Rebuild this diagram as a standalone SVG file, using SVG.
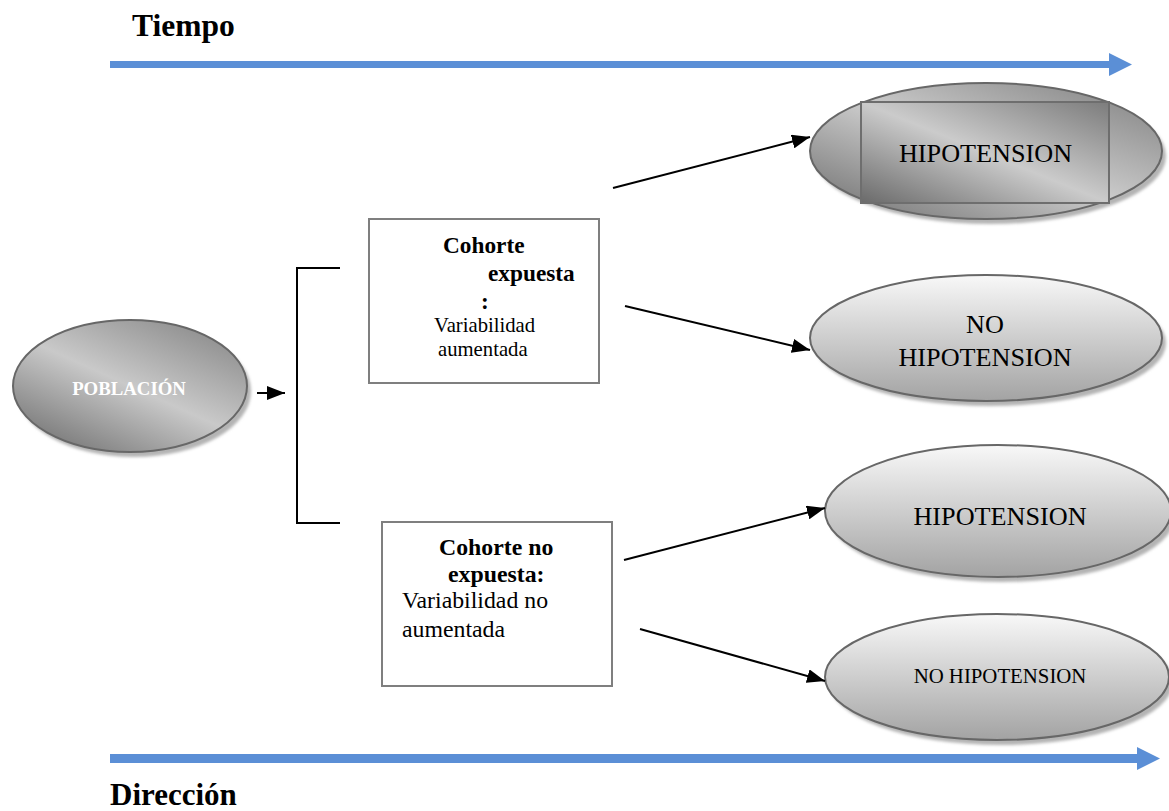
<svg xmlns="http://www.w3.org/2000/svg" width="1169" height="811" viewBox="0 0 1169 811">
<style>
.serif{font-family:"Liberation Serif","Times New Roman",serif;fill:#000}
.b{font-weight:bold}
.el{stroke:#676767;stroke-width:2}
.box{fill:#fff;stroke:#7f7f7f;stroke-width:2}
.con{stroke:#000;stroke-width:2;fill:none}
.shadow{fill:#b4b4b4;filter:url(#blur)}
</style>
<defs>
<filter id="blur" x="-10%" y="-10%" width="120%" height="120%"><feGaussianBlur stdDeviation="1.5"/></filter>
<linearGradient id="gDiag" x1="1" y1="0" x2="0" y2="1">
<stop offset="0" stop-color="#7c7c7c"/>
<stop offset="0.5" stop-color="#cbcbcb"/>
<stop offset="1" stop-color="#6a6a6a"/>
</linearGradient>
<linearGradient id="gPob" x1="0.9" y1="0" x2="0.1" y2="1">
<stop offset="0" stop-color="#858585"/>
<stop offset="0.5" stop-color="#c9c9c9"/>
<stop offset="1" stop-color="#6e6e6e"/>
</linearGradient>
<linearGradient id="gVert" x1="0" y1="0" x2="0" y2="1">
<stop offset="0" stop-color="#f8f8f8"/>
<stop offset="1" stop-color="#a3a3a3"/>
</linearGradient>
<marker id="ahs" viewBox="0 0 18 14" refX="18" refY="7" markerWidth="18" markerHeight="14" orient="auto" markerUnits="userSpaceOnUse">
<path d="M0,0 L18,7 L0,14 z" fill="#000"/>
</marker>
</defs>
<rect width="1169" height="811" fill="#fff"/>

<g id="tiempo">
<text class="serif b" x="132" y="36" font-size="31.5">Tiempo</text>
<path d="M110,61 L1109,61 L1109,53 L1132,64.5 L1109,76 L1109,68 L110,68 z" fill="#5b8fd6"/>
</g>

<g id="direccion">
<path d="M110,754 L1137,754 L1137,747 L1160,758.5 L1137,770 L1137,763 L110,763 z" fill="#5b8fd6"/>
<text class="serif b" x="110" y="805" font-size="31">Dirección</text>
</g>

<g id="poblacion">
<ellipse class="shadow" cx="134" cy="391" rx="117" ry="66"/>
<ellipse class="el" cx="130" cy="386" rx="117" ry="66" fill="url(#gPob)"/>
<text x="129" y="395" text-anchor="middle" font-family="Liberation Serif, serif" font-weight="bold" font-size="18.8" fill="#fff">POBLACIÓN</text>
</g>

<g id="cohorte-expuesta">
<rect class="box" x="369" y="219" width="230" height="164"/>
<text class="serif b" x="443" y="253" font-size="23.3">Cohorte</text>
<text class="serif b" x="488" y="281" font-size="23.3">expuesta</text>
<text class="serif b" x="481" y="309" font-size="23.3">:</text>
<text class="serif" x="434" y="332" font-size="20.7">Variabilidad</text>
<text class="serif" x="438" y="356" font-size="20.7">aumentada</text>
</g>

<g id="cohorte-no-expuesta">
<rect class="box" x="382" y="522" width="230" height="164"/>
<text class="serif b" x="439" y="555" font-size="23.8">Cohorte no</text>
<text class="serif b" x="448" y="582" font-size="23.8">expuesta:</text>
<text class="serif" x="402" y="608" font-size="23.8">Variabilidad no</text>
<text class="serif" x="402" y="637" font-size="23.8">aumentada</text>
</g>

<g id="hipotension-1">
<ellipse class="shadow" cx="990" cy="156" rx="176" ry="68"/>
<ellipse class="el" cx="986" cy="151" rx="176" ry="68" fill="url(#gDiag)"/>
<rect x="861" y="102" width="248" height="101" fill="url(#gDiag)" stroke="#6e6e6e" stroke-width="2"/>
<text class="serif" x="985.5" y="162" text-anchor="middle" font-size="26.2">HIPOTENSION</text>
</g>

<g id="no-hipotension-1">
<ellipse class="shadow" cx="990" cy="343" rx="176" ry="63"/>
<ellipse class="el" cx="986" cy="338" rx="176" ry="63" fill="url(#gVert)"/>
<text class="serif" x="985" y="333" text-anchor="middle" font-size="26.2">NO</text>
<text class="serif" x="985" y="366" text-anchor="middle" font-size="26.2">HIPOTENSION</text>
</g>

<g id="hipotension-2">
<ellipse class="shadow" cx="1002" cy="516" rx="173" ry="66"/>
<ellipse class="el" cx="998" cy="511" rx="173" ry="66" fill="url(#gVert)"/>
<text class="serif" x="1000" y="525" text-anchor="middle" font-size="26.2">HIPOTENSION</text>
</g>

<g id="no-hipotension-2">
<ellipse class="shadow" cx="1001" cy="682" rx="172" ry="63"/>
<ellipse class="el" cx="997" cy="677" rx="172" ry="63" fill="url(#gVert)"/>
<text class="serif" x="1000" y="683" text-anchor="middle" font-size="20.8">NO HIPOTENSION</text>
</g>

<g id="connectors">
<line class="con" x1="257" y1="393" x2="285" y2="393" marker-end="url(#ahs)"/>
<path class="con" d="M340,268 L297,268 L297,523 L340,523"/>
<line class="con" x1="613" y1="188" x2="810" y2="137" marker-end="url(#ahs)"/>
<line class="con" x1="625" y1="306" x2="810" y2="350" marker-end="url(#ahs)"/>
<line class="con" x1="624" y1="560" x2="825" y2="508" marker-end="url(#ahs)"/>
<line class="con" x1="640" y1="629" x2="825" y2="681" marker-end="url(#ahs)"/>
</g>
</svg>
